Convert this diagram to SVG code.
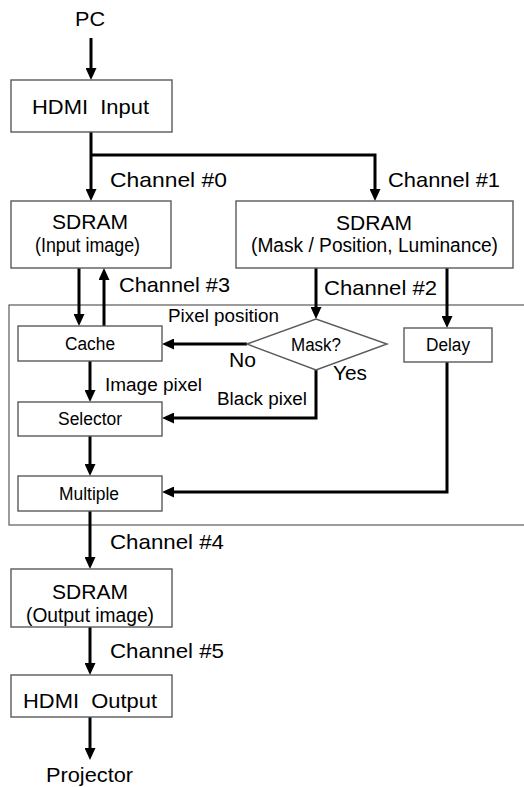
<svg xmlns="http://www.w3.org/2000/svg" width="524" height="787" viewBox="0 0 524 787">
<style>
.box{fill:#fff;stroke:#5a5a5a;stroke-width:1.4}
.frame{fill:none;stroke:#5a5a5a;stroke-width:1.2}
.c{fill:none;stroke:#000;stroke-width:3}
text{font-family:"Liberation Sans",Arial,sans-serif;fill:#000}
.lg{font-size:21px}
.md{font-size:20px}
.sm{font-size:18px}
</style>
<defs>
<marker id="ah" markerUnits="userSpaceOnUse" viewBox="0 0 12 11" refX="2" refY="5.5" markerWidth="12" markerHeight="11" orient="auto">
<path d="M0,0 L12,5.5 L0,11 z" fill="#000"/>
</marker>
</defs>
<rect class="frame" x="9" y="305" width="525" height="220"/>
<g id="connectors">
<path class="c" d="M91,38 V70" marker-end="url(#ah)"/>
<path class="c" d="M91,132 V191" marker-end="url(#ah)"/>
<path class="c" d="M91,155 H375 V191" marker-end="url(#ah)"/>
<path class="c" d="M79,268 V316" marker-end="url(#ah)"/>
<path class="c" d="M104,326 V278" marker-end="url(#ah)"/>
<path class="c" d="M316,268 V309" marker-end="url(#ah)"/>
<path class="c" d="M447,268 V318" marker-end="url(#ah)"/>
<path class="c" d="M247,344 H172" marker-end="url(#ah)"/>
<path class="c" d="M316,370 V418 H172" marker-end="url(#ah)"/>
<path class="c" d="M90,361 V392" marker-end="url(#ah)"/>
<path class="c" d="M90,436 V466" marker-end="url(#ah)"/>
<path class="c" d="M447,362 V492 H172" marker-end="url(#ah)"/>
<path class="c" d="M90,511 V559" marker-end="url(#ah)"/>
<path class="c" d="M90,627 V665" marker-end="url(#ah)"/>
<path class="c" d="M90,717 V750" marker-end="url(#ah)"/>
<text class="lg" x="110" y="187" textLength="117" lengthAdjust="spacingAndGlyphs">Channel #0</text>
<text class="lg" x="388" y="187" textLength="112" lengthAdjust="spacingAndGlyphs">Channel #1</text>
<text class="lg" x="324" y="295" textLength="113" lengthAdjust="spacingAndGlyphs">Channel #2</text>
<text class="lg" x="119" y="292" textLength="111" lengthAdjust="spacingAndGlyphs">Channel #3</text>
<text class="sm" x="168" y="322" textLength="111" lengthAdjust="spacingAndGlyphs">Pixel position</text>
<text class="lg" x="229" y="367" textLength="27" lengthAdjust="spacingAndGlyphs">No</text>
<text class="lg" x="333" y="380" textLength="34" lengthAdjust="spacingAndGlyphs">Yes</text>
<text class="sm" x="105" y="391" textLength="97" lengthAdjust="spacingAndGlyphs">Image pixel</text>
<text class="sm" x="217" y="405" textLength="90" lengthAdjust="spacingAndGlyphs">Black pixel</text>
<text class="lg" x="110" y="549" textLength="114" lengthAdjust="spacingAndGlyphs">Channel #4</text>
<text class="lg" x="110" y="658" textLength="114" lengthAdjust="spacingAndGlyphs">Channel #5</text>
</g>
<g id="pc"><text class="lg" x="75" y="26" textLength="30" lengthAdjust="spacingAndGlyphs">PC</text></g>
<g id="hdmi-input">
<rect class="box" x="11" y="80" width="161" height="52"/>
<text class="md" x="32" y="114" textLength="117" lengthAdjust="spacingAndGlyphs" xml:space="preserve">HDMI  Input</text>
</g>
<g id="sdram-input">
<rect class="box" x="11" y="201" width="160" height="67"/>
<text class="md" x="52" y="229" textLength="76" lengthAdjust="spacingAndGlyphs">SDRAM</text>
<text class="md" x="35" y="252" textLength="105" lengthAdjust="spacingAndGlyphs">(Input image)</text>
</g>
<g id="sdram-mask">
<rect class="box" x="236" y="201" width="277" height="67"/>
<text class="md" x="336" y="230" textLength="76" lengthAdjust="spacingAndGlyphs">SDRAM</text>
<text class="md" x="251" y="252" textLength="247" lengthAdjust="spacingAndGlyphs">(Mask / Position, Luminance)</text>
</g>
<g id="cache">
<rect class="box" x="18" y="326" width="144" height="35"/>
<text class="sm" x="65" y="350" textLength="50" lengthAdjust="spacingAndGlyphs">Cache</text>
</g>
<g id="mask-decision">
<polygon class="box" points="247,344 316,319 387,344 316,370"/>
<text class="sm" x="291" y="351" textLength="50" lengthAdjust="spacingAndGlyphs">Mask?</text>
</g>
<g id="delay">
<rect class="box" x="404" y="328" width="88" height="34"/>
<text class="sm" x="426" y="351" textLength="44" lengthAdjust="spacingAndGlyphs">Delay</text>
</g>
<g id="selector">
<rect class="box" x="18" y="402" width="144" height="34"/>
<text class="sm" x="58" y="425" textLength="64" lengthAdjust="spacingAndGlyphs">Selector</text>
</g>
<g id="multiple">
<rect class="box" x="18" y="476" width="144" height="35"/>
<text class="sm" x="59" y="500" textLength="60" lengthAdjust="spacingAndGlyphs">Multiple</text>
</g>
<g id="sdram-output">
<rect class="box" x="11" y="569" width="161" height="58"/>
<text class="md" x="52" y="599" textLength="76" lengthAdjust="spacingAndGlyphs">SDRAM</text>
<text class="md" x="26" y="622" textLength="128" lengthAdjust="spacingAndGlyphs">(Output image)</text>
</g>
<g id="hdmi-output">
<rect class="box" x="11" y="675" width="161" height="42"/>
<text class="md" x="23" y="708" textLength="134" lengthAdjust="spacingAndGlyphs" xml:space="preserve">HDMI  Output</text>
</g>
<g id="projector"><text class="lg" x="46" y="782" textLength="87" lengthAdjust="spacingAndGlyphs">Projector</text></g>
</svg>
